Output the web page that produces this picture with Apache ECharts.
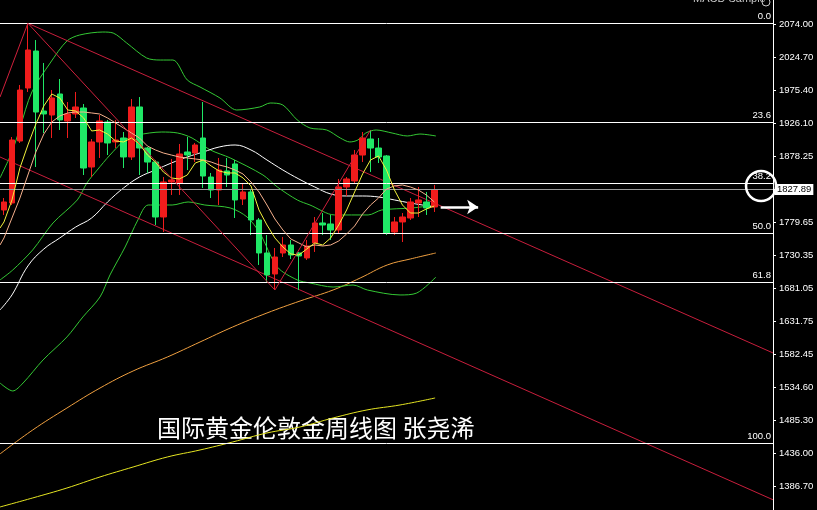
<!DOCTYPE html>
<html><head><meta charset="utf-8">
<script src="https://cdn.jsdelivr.net/npm/echarts@6/dist/echarts.min.js"></script>
<style>html,body{margin:0;padding:0;background:#000;}#c{width:817px;height:510px;}</style>
</head><body><div id="c"></div>
<script>
// ---- data (weekly XAUUSD), [open, close, low, high]
const candles = [
[1797.6,1809.5,1790.2,1815.4],[1808.0,1901.6,1805.0,1906.1],[1900.1,1975.9,1897.2,1983.4],[1978.9,2035.4,1973.0,2075.1],
[2033.9,1943.2,1861.5,2050.2],[1944.7,1940.3,1912.0,2016.1],[1938.8,1964.1,1904.6,1975.9],[1970.0,1931.4,1916.5,1992.3],
[1929.9,1940.3,1904.6,1958.1],[1940.3,1950.7,1934.3,1973.0],[1949.2,1860.0,1849.6,1955.1],[1861.5,1898.7,1846.6,1903.1],
[1898.7,1929.9,1874.9,1938.8],[1928.4,1897.2,1879.3,1931.4],[1898.7,1901.6,1889.7,1931.4],[1904.6,1876.4,1860.0,1913.5],
[1876.4,1950.7,1871.9,1962.6],[1950.7,1889.7,1849.6,1965.5],[1889.7,1868.9,1852.6,1891.2],[1868.9,1787.2,1775.3,1871.9],
[1787.2,1839.2,1764.9,1846.6],[1839.2,1842.2,1819.9,1873.4],[1837.7,1880.8,1819.9,1895.7],[1883.8,1879.3,1857.0,1906.1],
[1882.3,1894.2,1868.9,1897.2],[1904.6,1848.1,1830.3,1958.1],[1846.6,1827.3,1815.4,1852.6],[1827.3,1857.0,1805.0,1874.9],
[1855.6,1849.6,1831.8,1874.9],[1866.0,1812.5,1785.7,1871.9],[1813.9,1824.4,1805.0,1837.7],[1824.4,1782.7,1760.4,1827.3],
[1782.7,1733.7,1715.9,1785.7],[1733.7,1701.0,1689.1,1760.4],[1702.5,1727.7,1678.7,1741.1],[1733.7,1745.6,1727.7,1757.5],
[1745.6,1730.7,1724.8,1753.0],[1733.7,1729.2,1678.7,1735.2],[1726.3,1744.1,1723.3,1753.0],[1748.6,1778.3,1735.2,1787.2],
[1778.3,1775.3,1760.4,1793.1],[1776.8,1767.9,1753.0,1790.2],[1767.9,1831.8,1763.4,1843.7],[1831.8,1843.7,1818.4,1846.6],
[1840.7,1879.3,1837.7,1886.8],[1879.3,1904.6,1868.9,1913.5],[1903.1,1889.7,1854.1,1916.5],[1889.7,1876.4,1867.4,1904.6],
[1877.9,1763.4,1760.4,1879.3],[1764.9,1779.8,1760.4,1787.2],[1779.8,1787.2,1750.0,1793.1],[1785.7,1809.5,1782.7,1815.4],
[1808.0,1812.5,1787.2,1831.8],[1809.5,1800.6,1790.2,1824.4],[1802.1,1827.89,1794.6,1834.8]
];
const lastPrice = 1827.89;

// moving averages: [slot, price]
const maFast = [[-0.5,1770.8],[0,1779.8],[1,1812.5],[2,1860.0],[3,1894.2],[4,1925.4],[5,1952.2],[6,1970.0],[7,1964.1],[8,1946.2],[9,1944.7],[10,1934.3],[11,1915.0],[12,1916.5],[13,1910.5],[14,1900.1],[15,1898.7],[16,1904.6],[17,1895.7],[18,1879.3],[19,1868.9],[20,1854.1],[21,1845.2],[22,1843.7],[23,1849.6],[24,1867.4],[25,1871.9],[26,1863.0],[27,1855.6],[28,1852.6],[29,1852.6],[30,1845.2],[31,1833.3],[32,1797.6],[33,1775.3],[34,1756.0],[35,1742.6],[36,1732.2],[37,1730.7],[38,1739.6],[39,1748.6],[40,1745.6],[41,1756.0],[42,1775.3],[43,1797.6],[44,1824.4],[45,1851.1],[46,1871.9],[47,1877.9],[48,1857.0],[49,1827.3],[50,1805.0],[51,1793.1],[52,1793.1],[53,1799.1],[54,1803.5]];
const maMid = [[-0.5,1745.6],[0,1756.0],[1,1785.7],[2,1815.4],[3,1849.6],[4,1883.8],[5,1910.5],[6,1928.4],[7,1937.3],[8,1941.8],[9,1943.2],[10,1943.2],[11,1941.8],[12,1940.3],[13,1934.3],[14,1926.9],[15,1919.5],[16,1912.0],[17,1904.6],[18,1892.7],[19,1886.8],[20,1882.3],[21,1879.3],[22,1876.4],[23,1874.9],[24,1873.4],[25,1871.9],[26,1868.9],[27,1864.5],[28,1861.5],[29,1857.0],[30,1851.1],[31,1839.2],[32,1824.4],[33,1805.0],[34,1784.2],[35,1767.9],[36,1754.5],[37,1748.6],[38,1742.6],[39,1745.6],[40,1744.1],[41,1745.6],[42,1751.5],[43,1761.9],[44,1773.8],[45,1791.6],[46,1805.0],[47,1815.4],[48,1828.8],[49,1833.3],[50,1834.8],[51,1831.8],[52,1827.3],[53,1819.9],[54,1809.5]];
const maWhite = [[-0.5,1649.0],[1,1671.3],[3,1714.4],[5,1739.6],[7,1756.0],[9,1772.3],[11,1785.7],[13,1809.5],[15,1830.3],[17,1846.6],[19,1857.0],[21,1867.4],[23,1876.4],[25,1883.8],[27,1891.2],[29,1894.2],[31,1886.8],[33,1871.9],[35,1857.0],[37,1843.7],[39,1831.8],[41,1821.4],[43,1818.4],[45,1818.4],[47,1816.9],[49,1812.5],[51,1808.0],[54,1802.1]];
const maOrange = [[-0.5,1435.0],[3.6,1470.6],[7.9,1503.3],[12.05,1533.0],[16.2,1558.3],[20.5,1579.1],[24.6,1601.4],[28.7,1623.7],[33.0,1644.5],[37.15,1662.3],[41.3,1678.7],[44.7,1696.5],[48.1,1715.9],[51.0,1724.8],[54.2,1733.7]];
const maSlow = [[-0.5,1356.2],[3.6,1369.6],[7.9,1384.4],[12.05,1400.8],[16.2,1415.6],[20.5,1430.5],[24.6,1440.9],[28.7,1452.8],[33.0,1466.2],[37.15,1475.1],[41.3,1488.5],[45.55,1500.4],[49.7,1507.8],[54.1,1518.2]];
// Bollinger bands
const bbUpper = [[-0.5,1845.2],[1,1883.8],[2,1919.5],[3.5,1973.0],[5.8,2016.1],[7.9,2048.8],[9.5,2057.7],[12.4,2062.1],[13.7,2060.6],[15.4,2045.8],[17.9,2023.5],[19.6,2020.5],[21.2,2020.5],[23.0,1990.8],[24.6,1980.4],[27.1,1964.1],[29.2,1946.2],[32.1,1950.7],[33.4,1956.6],[35.0,1953.6],[36.8,1931.4],[38.4,1919.5],[40.5,1916.5],[42.2,1904.6],[43.4,1898.7],[44.4,1901.6],[45.4,1912.0],[46.7,1916.5],[48.7,1912.0],[50.6,1907.6],[52.2,1910.5],[54.2,1907.6]];
const bbMiddle = [[-0.5,1693.6],[1.1,1708.4],[3.6,1738.2],[6.15,1778.3],[9.2,1812.5],[10.4,1837.7],[11.7,1857.0],[13.3,1879.3],[15.2,1901.6],[16.8,1909.0],[19.8,1913.5],[21.8,1912.0],[23.6,1904.6],[25.9,1886.8],[28.4,1874.9],[32.5,1849.6],[34.3,1831.8],[36.8,1812.5],[38.4,1805.0],[41.5,1790.2],[45.7,1790.2],[47.4,1797.6],[51.2,1800.6],[54.2,1805.0]];
const bbLower = [[-0.5,1540.5],[1.1,1528.6],[2.4,1540.5],[4.9,1574.7],[7.9,1608.9],[9.9,1638.6],[12.05,1668.3],[13.3,1701.0],[15.2,1742.6],[16.8,1782.7],[18.1,1805.0],[21.1,1805.0],[23.1,1809.5],[25.2,1805.0],[28.4,1800.6],[30.5,1787.2],[32.1,1763.4],[34.3,1712.9],[36.8,1693.6],[38.4,1689.1],[41.3,1683.1],[43.8,1686.1],[45.6,1678.7],[49.7,1671.3],[51.8,1674.2],[54.2,1698.0]];
// drawn objects
const zigzag = [[-0.5,1965.5],[3,2075.1],[34,1678.7],[46,1916.5]];
const channelUpper = [[3,2075.1],[96.5,1585.1]];
const channelLower = [[-0.5,1876.4],[96.5,1366.9]];
const fibHigh = 2075.1, fibLow = 1451.4;
const fibLevels = [0, 23.6, 38.2, 50, 61.8, 100];
const tickLabels = ['2074.00','2024.70','1975.40','1926.10','1878.25','','1779.65','1730.35','1681.05','1631.75','1582.45','1534.60','1485.30','1436.00','1386.70'];
const arrowFrom = [54.8, 1802.1], arrowTo = [59.5, 1802.1];
const circleAt = [95.0, 1833.3];
const titleText = '国际黄金伦敦金周线图 张尧浠';
const indicatorName = 'MACD Sample';

const N_SLOTS = 97;
const priceMax = 2109.7, priceMin = 1351.7;
const slots = Array.from({length: N_SLOTS}, (_, i) => String(i));
const FONT = "'Liberation Sans',Arial,sans-serif";
const FS = 9.5;
const fibPrice = l => fibHigh - (fibHigh - fibLow) * l / 100;

const chart = echarts.init(document.getElementById('c'));
const mk = (name, data, color, smooth, z) => ({
  type: 'line', name, data, xAxisIndex: 1, yAxisIndex: 0, symbol: 'none', showSymbol: false,
  smooth: smooth, silent: true, z: z || 3, lineStyle: {color, width: 1}
});

const option = {
  backgroundColor: '#000',
  animation: false,
  grid: [{left: 0, top: 0, width: 773, height: 510}, {left: 0, top: 24, width: 773, height: 462}],
  xAxis: [
    {type: 'category', gridIndex: 0, data: slots, show: false, boundaryGap: true},
    {type: 'value', gridIndex: 0, min: -0.5, max: N_SLOTS - 0.5, show: false},
    {type: 'value', gridIndex: 1, min: 0, max: 1, show: false}
  ],
  yAxis: [
    {type: 'value', gridIndex: 0, min: priceMin, max: priceMax, position: 'right',
     axisLine: {show: true, onZero: false, lineStyle: {color: '#ffffff', width: 1}}, axisTick: {show: false},
     axisLabel: {show: false}, splitLine: {show: false}},
    {type: 'value', gridIndex: 1, min: 0, max: tickLabels.length - 1, interval: 1, inverse: true, position: 'right',
     axisLine: {show: false, onZero: false}, axisTick: {show: true, length: 3, lineStyle: {color: '#ffffff'}},
     axisLabel: {color: '#ffffff', fontFamily: FONT, fontSize: FS, margin: 6, formatter: v => tickLabels[v] || ''},
     splitLine: {show: false}}
  ],
  series: [
    mk('MA slow', maSlow, '#e6e622', 0.4, 2),
    mk('MA orange', maOrange, '#f0a040', 0.4, 2),
    mk('BB upper', bbUpper, '#34c834', 0.3, 2),
    mk('BB middle', bbMiddle, '#34c834', 0.3, 2),
    mk('BB lower', bbLower, '#34c834', 0.3, 2),
    mk('MA white', maWhite, '#ffffff', 0.4, 2),
    mk('Channel upper', channelUpper, '#c81e3c', false, 2),
    mk('Channel lower', channelLower, '#c81e3c', false, 2),
    {
      type: 'candlestick', xAxisIndex: 0, yAxisIndex: 0, data: candles, barWidth: 6, z: 4, silent: true,
      itemStyle: {color: '#f01c1c', color0: '#1fe866', borderColor: '#f01c1c', borderColor0: '#1fe866', borderWidth: 1},
      markLine: {
        silent: true, symbol: ['none', 'none'], animation: false,
        lineStyle: {color: '#ffffff', width: 1, type: 'solid'},
        data: fibLevels.map(l => ({
          yAxis: fibPrice(l),
          label: {show: true, position: 'insideEndTop', distance: 2, formatter: l.toFixed(1),
                  color: '#ffffff', fontFamily: FONT, fontSize: FS}
        })).concat([{
          yAxis: lastPrice,
          lineStyle: {color: '#9a9a9a', width: 1, type: 'solid'},
          label: {show: true, position: 'end', distance: 2, formatter: lastPrice.toFixed(2),
                  color: '#000', backgroundColor: '#ffffff', padding: [1, 2, 0, 2],
                  fontFamily: FONT, fontSize: FS}
        }])
      }
    },
    mk('MA mid', maMid, '#f5b08c', false, 5),
    mk('MA fast', maFast, '#f2f23c', false, 6),
    Object.assign(mk('ZigZag', zigzag, '#d0203c', false, 6), {
      markLine: {
        silent: true, symbol: ['none', 'arrow'], symbolSize: 11, animation: false,
        lineStyle: {color: '#ffffff', width: 2.5, type: 'solid'}, label: {show: false},
        data: [[{coord: arrowFrom}, {coord: arrowTo}]]
      },
      markPoint: {
        silent: true, animation: false,
        data: [{coord: circleAt, symbol: 'circle', symbolSize: 30,
                itemStyle: {color: 'rgba(0,0,0,0)', borderColor: '#ffffff', borderWidth: 2.5},
                label: {show: false}}]
      }
    })
  ],
  graphic: [
    {type: 'text', left: 157, top: 416, silent: true,
     style: {text: titleText, fill: '#ffffff', font: "24px 'Noto Sans CJK SC'"}},
    {type: 'text', left: 693, top: -7, silent: true,
     style: {text: indicatorName, fill: '#c8c8c8', font: "11px 'Liberation Sans'"}},
    {type: 'circle', shape: {cx: 766, cy: 2, r: 4}, silent: true,
     style: {fill: 'none', stroke: '#c8c8c8', lineWidth: 1}}
  ]
};
chart.setOption(option);
</script>
</body></html>
